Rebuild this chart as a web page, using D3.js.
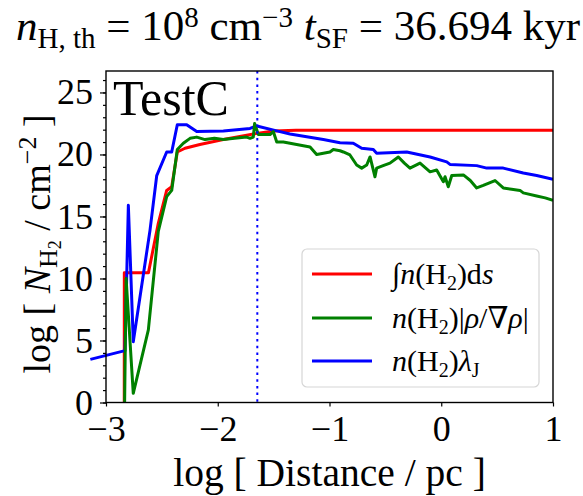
<!DOCTYPE html>
<html>
<head>
<meta charset="utf-8">
<script src="https://cdn.jsdelivr.net/npm/d3@7"></script>
<style>
  body { margin: 0; background: #fff; }
  svg text { font-family: "Liberation Serif", "DejaVu Serif", serif; fill: #000; }
</style>
</head>
<body>
<div id="chart"></div>
<script>
// data (log distance in pc, log column density)
const xTicks = [-3, -2, -1, 0, 1]
const yTicks = [0, 5, 10, 15, 20, 25]
const xDomain = [-3, 1]
const yDomain = [0, 26.73]
const rSink = -1.646

const redPts = [[-2.837, -5], [-2.836, 10.47], [-2.62, 10.47], [-2.532, 14.45], [-2.457, 17.1], [-2.412, 17.4],
  [-2.362, 20.2], [-2.293, 20.5], [-2.16, 20.8], [-1.95, 21.2], [-1.65, 21.7], [-1.5, 21.9], [-1.3, 21.95], [1.0, 21.95]]

const greenPts = [[-2.84, -5], [-2.82, 10.0], [-2.756, 0.74], [-2.621, 5.85], [-2.532, 13.8], [-2.457, 16.6],
  [-2.412, 17.1], [-2.362, 20.4], [-2.308, 20.9], [-2.248, 21.3], [-2.188, 21.4], [-2.114, 21.2], [-2.03, 21.3],
  [-1.95, 21.2], [-1.85, 21.3], [-1.741, 21.4], [-1.711, 21.3], [-1.682, 21.4], [-1.67, 22.5], [-1.651, 22.0],
  [-1.637, 21.6], [-1.58, 21.6], [-1.532, 21.6], [-1.503, 21.85], [-1.472, 21.0], [-1.413, 21.0], [-1.353, 20.9],
  [-1.294, 20.8], [-1.174, 20.6], [-1.115, 20.0], [-1.055, 20.1], [-0.996, 20.2], [-0.966, 20.4], [-0.906, 20.3],
  [-0.876, 20.2], [-0.817, 19.96], [-0.757, 19.15], [-0.712, 18.9], [-0.667, 19.15], [-0.637, 19.8], [-0.593, 18.2],
  [-0.578, 18.9], [-0.52, 19.1], [-0.459, 19.3], [-0.384, 19.8], [-0.33, 19.3], [-0.28, 18.9], [-0.19, 19.3],
  [-0.1, 18.6], [-0.041, 18.75], [0.019, 17.8], [0.034, 18.2], [0.063, 17.4], [0.094, 18.3], [0.198, 18.35],
  [0.26, 17.9], [0.317, 17.3], [0.376, 17.5], [0.481, 17.9], [0.555, 17.3], [0.63, 17.2], [0.705, 17.1],
  [0.734, 16.9], [0.854, 16.65], [0.93, 16.5], [1.0, 16.3]]

const bluePts = [[-3.14, 3.48], [-2.83, 4.18], [-2.80, 15.9], [-2.756, 4.9], [-2.606, 13.9], [-2.546, 18.3],
  [-2.457, 20.2], [-2.412, 20.2], [-2.362, 22.4], [-2.278, 22.4], [-2.188, 21.85], [-1.95, 21.9], [-1.711, 22.1],
  [-1.651, 22.3], [-1.472, 21.9], [-1.353, 21.65], [-1.055, 21.2], [-0.906, 20.95], [-0.787, 20.9], [-0.712, 20.5],
  [-0.608, 20.4], [-0.578, 20.1], [-0.309, 20.2], [-0.1, 19.8], [0.049, 19.4], [0.078, 19.2], [0.317, 19.1],
  [0.407, 18.9], [0.555, 18.9], [0.734, 18.5], [0.854, 18.3], [1.0, 18.0]]

const width = 583, height = 496
const margin = {top: 71, right: 30, bottom: 93.5, left: 106}
const w = width - margin.left - margin.right
const h = height - margin.top - margin.bottom

const svg = d3.select("#chart").append("svg")
  .attr("width", width)
  .attr("height", height)

const x = d3.scaleLinear().domain(xDomain).range([0, w])
const y = d3.scaleLinear().domain(yDomain).range([h, 0])

const g = svg.append("g").attr("transform", `translate(${margin.left},${margin.top})`)

g.append("clipPath").attr("id", "clip")
  .append("rect").attr("x", -20).attr("y", 0).attr("width", w + 20).attr("height", h)

const line = d3.line().x(d => x(d[0])).y(d => y(d[1]))

const plot = g.append("g").attr("clip-path", "url(#clip)")

const series = [
  {pts: redPts, colour: "#ff0000"},
  {pts: bluePts, colour: "#0000ff"},
  {pts: greenPts, colour: "#008000"}
]
series.forEach(s => {
  plot.append("path")
    .datum(s.pts)
    .attr("d", line)
    .attr("fill", "none")
    .attr("stroke", s.colour)
    .attr("stroke-width", 3)
    .attr("stroke-linejoin", "round")
})

plot.append("line")
  .attr("x1", x(rSink)).attr("x2", x(rSink))
  .attr("y1", 0).attr("y2", h)
  .attr("stroke", "#0000ff")
  .attr("stroke-width", 2)
  .attr("stroke-dasharray", "2.5,4.2")

// axes
const minusFmt = d => d < 0 ? "\u2212" + Math.abs(d) : String(d)

const xAxis = g.append("g").attr("transform", `translate(0,${h})`)
  .call(d3.axisBottom(x).tickValues(xTicks).tickFormat(minusFmt).tickSize(4).tickPadding(9))
const yAxis = g.append("g")
  .call(d3.axisLeft(y).tickValues(d3.range(0, 27, 1)).tickFormat("").tickSize(3))
const yAxisMajor = g.append("g")
  .call(d3.axisLeft(y).tickValues(yTicks).tickFormat(d => d).tickSize(6).tickPadding(7))

;[xAxis, yAxis, yAxisMajor].forEach(a => {
  a.attr("font-family", null)
  a.select(".domain").remove()
  a.selectAll("line").attr("stroke", "#000").attr("stroke-width", 1.2)
  a.selectAll("text").style("font-family", "'Liberation Serif', serif").style("font-size", "36px")
})
xAxis.selectAll("text").attr("dy", "0.71em")

g.append("rect")
  .attr("width", w).attr("height", h)
  .attr("fill", "none").attr("stroke", "#000").attr("stroke-width", 1.4)

// TestC label
g.append("text")
  .attr("x", 7).attr("y", 44)
  .style("font-size", "50px")
  .text("TestC")

// legend
const legendItems = [
  {colour: "#ff0000", parts: [["\u222B", ""], ["n", "i"], ["(H", ""], ["2", "sub"], [")d", ""], ["s", "i"]]},
  {colour: "#008000", parts: [["n", "i"], ["(H", ""], ["2", "sub"], [")|", ""], ["\u03C1", "i"], ["/\u2207", ""], ["\u03C1", "i"], ["|", ""]]},
  {colour: "#0000ff", parts: [["n", "i"], ["(H", ""], ["2", "sub"], [")", ""], ["\u03BB", "i"], ["J", "sub"]]}
]
const legend = svg.append("g").attr("transform", "translate(302,249)")
legend.append("rect")
  .attr("width", 237).attr("height", 138).attr("rx", 5)
  .attr("fill", "#fff").attr("fill-opacity", 0.8)
  .attr("stroke", "#d6d6d6").attr("stroke-width", 1.2)
const rowY = [25, 69, 112]
legendItems.forEach((item, i) => {
  legend.append("line")
    .attr("x1", 10).attr("x2", 70)
    .attr("y1", rowY[i]).attr("y2", rowY[i])
    .attr("stroke", item.colour).attr("stroke-width", 3)
  const t = legend.append("text")
    .attr("x", 90).attr("y", rowY[i] + 10)
    .style("font-size", "30px")
  item.parts.forEach(p => {
    const ts = t.append("tspan").text(p[0])
    if (p[1] === "i") ts.style("font-style", "italic")
    if (p[1] === "sub") ts.style("font-size", "20px").attr("dy", 6)
    else if (ts.node().previousSibling && ts.node().previousSibling.getAttribute("dy") === "6") ts.attr("dy", -6)
  })
})

// title
const title = svg.append("text")
  .attr("x", 298).attr("y", 40)
  .attr("text-anchor", "middle")
  .style("font-size", "43px")
title.append("tspan").text("n").style("font-style", "italic")
title.append("tspan").text("H, th").style("font-size", "29px").attr("dy", 8)
title.append("tspan").text(" = 10").attr("dy", -8)
title.append("tspan").text("8").style("font-size", "29px").attr("dy", -13)
title.append("tspan").text(" cm").attr("dy", 13)
title.append("tspan").text("\u22123").style("font-size", "29px").attr("dy", -13)
title.append("tspan").text(" t").style("font-style", "italic").attr("dy", 13)
title.append("tspan").text("SF").style("font-size", "29px").attr("dy", 8)
title.append("tspan").text(" = 36.694 kyr").attr("dy", -8)

// axis labels
svg.append("text")
  .attr("x", margin.left + w / 2).attr("y", 486)
  .attr("text-anchor", "middle")
  .style("font-size", "39.5px")
  .text("log [ Distance / pc ]")

const yl = svg.append("text")
  .attr("transform", `translate(50,244) rotate(-90)`)
  .attr("text-anchor", "middle")
  .style("font-size", "38px")
yl.append("tspan").text("log [ ")
yl.append("tspan").text("N").style("font-style", "italic")
yl.append("tspan").text("H").style("font-size", "26px").attr("dy", 7)
yl.append("tspan").text("2").style("font-size", "18px").attr("dy", 4)
yl.append("tspan").text(" / cm").attr("dy", -11)
yl.append("tspan").text("\u22122").style("font-size", "26px").attr("dy", -14)
yl.append("tspan").text(" ]").attr("dy", 14)
</script>
</body>
</html>
